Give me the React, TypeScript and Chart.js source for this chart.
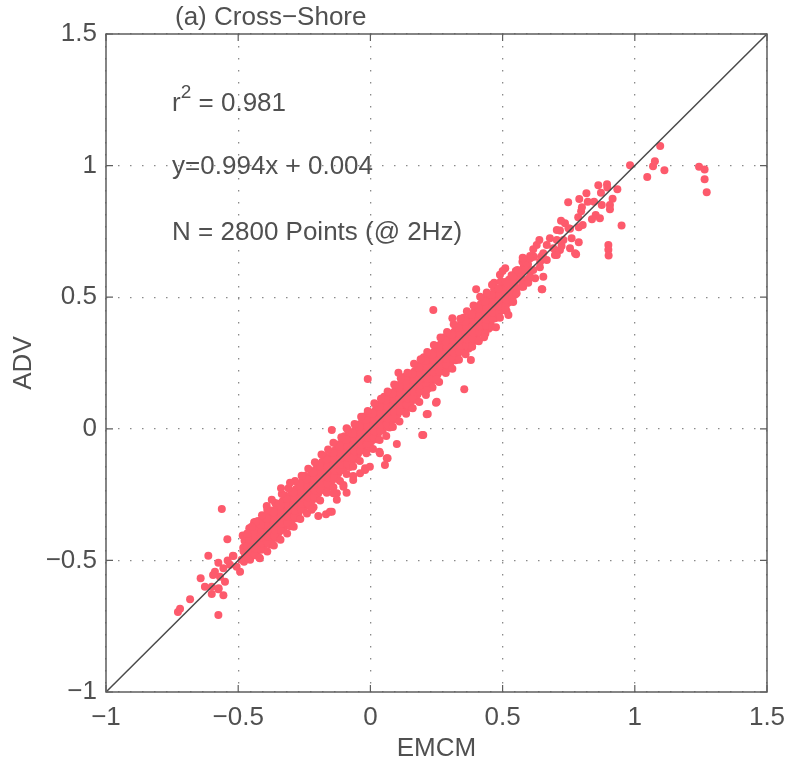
import React, { useEffect, useRef } from "react";
import { Chart, registerables } from "chart.js";

Chart.register(...registerables);

// Axis ticks (both axes share the same range)
const xTicks = [-1, -0.5, 0, 0.5, 1, 1.5];
const yTicks = [-1, -0.5, 0, 0.5, 1, 1.5];

const panelTitle = "(a) Cross\u2212Shore";
const xTitle = "EMCM";
const yTitle = "ADV";
const rSquared = "0.981";
const fitText = "y=0.994x + 0.004";
const countText = "N = 2800 Points (@ 2Hz)";
// data-space anchors of the three statistic lines
const statX = -0.75;
const statY = [1.235, 0.995, 0.745];

// 1:1 reference line
const oneToOne: [number, number][] = [
  [-1, -1],
  [1.5, 1.5],
];

// [EMCM, ADV] samples — sparse lower end of the cloud
const tailLow: [number, number][] = [
  [-0.728, -0.696], [-0.72, -0.684], [-0.682, -0.648], [-0.642, -0.568], [-0.626, -0.6],
  [-0.6, -0.6], [-0.6, -0.628], [-0.575, -0.707], [-0.575, -0.61], [-0.556, -0.632],
  [-0.55, -0.581], [-0.569, -0.562], [-0.588, -0.543], [-0.556, -0.53], [-0.575, -0.509],
  [-0.613, -0.482], [-0.541, -0.42], [-0.562, -0.305], [-0.531, -0.517], [-0.518, -0.483],
  [-0.506, -0.524], [-0.493, -0.543], [-0.487, -0.498], [-0.474, -0.48], [-0.455, -0.498],
  [-0.436, -0.48], [-0.418, -0.492], [-0.481, -0.452], [-0.455, -0.422], [-0.449, -0.384],
  [-0.43, -0.353], [-0.595, -0.555], [-0.574, -0.606], [-0.52, -0.482], [-0.54, -0.5],
];

// dense band, lower part
const bandLow: [number, number][] = [
  [-0.478, -0.505], [-0.472, -0.485], [-0.48, -0.465], [-0.47, -0.445], [-0.476, -0.425], [-0.483, -0.405],
  [-0.452, -0.48], [-0.447, -0.462], [-0.455, -0.44], [-0.446, -0.42], [-0.452, -0.398], [-0.458, -0.378],
  [-0.428, -0.465], [-0.421, -0.445], [-0.43, -0.425], [-0.42, -0.405], [-0.426, -0.385], [-0.432, -0.365], [-0.424, -0.35],
  [-0.403, -0.455], [-0.397, -0.435], [-0.405, -0.415], [-0.395, -0.395], [-0.401, -0.375], [-0.407, -0.355], [-0.398, -0.335],
  [-0.378, -0.44], [-0.372, -0.42], [-0.38, -0.398], [-0.37, -0.375], [-0.376, -0.352], [-0.382, -0.33], [-0.373, -0.31],
  [-0.353, -0.415], [-0.347, -0.395], [-0.355, -0.372], [-0.345, -0.35], [-0.351, -0.328], [-0.357, -0.305], [-0.348, -0.285],
  [-0.328, -0.38], [-0.322, -0.36], [-0.33, -0.337], [-0.32, -0.315], [-0.326, -0.295], [-0.332, -0.275], [-0.323, -0.253],
  [-0.303, -0.37], [-0.297, -0.348], [-0.305, -0.328], [-0.295, -0.305], [-0.301, -0.283], [-0.307, -0.262], [-0.298, -0.24],
  [-0.278, -0.34], [-0.272, -0.32], [-0.28, -0.297], [-0.27, -0.275], [-0.276, -0.253], [-0.282, -0.23], [-0.273, -0.21],
  [-0.253, -0.305], [-0.247, -0.285], [-0.255, -0.262], [-0.245, -0.24], [-0.251, -0.22], [-0.257, -0.2], [-0.248, -0.178],
  [-0.228, -0.295], [-0.222, -0.273], [-0.23, -0.253], [-0.22, -0.23], [-0.226, -0.208], [-0.232, -0.187], [-0.223, -0.165],
  [-0.203, -0.265], [-0.197, -0.245], [-0.205, -0.222], [-0.195, -0.2], [-0.201, -0.178], [-0.207, -0.155], [-0.198, -0.135],
];

// dense band, middle part
const bandMid: [number, number][] = [
  [-0.178, -0.23], [-0.172, -0.21], [-0.18, -0.187], [-0.17, -0.165], [-0.176, -0.145], [-0.182, -0.125], [-0.173, -0.103],
  [-0.153, -0.22], [-0.147, -0.198], [-0.155, -0.178], [-0.145, -0.155], [-0.151, -0.133], [-0.157, -0.112], [-0.148, -0.09],
  [-0.128, -0.19], [-0.122, -0.17], [-0.13, -0.147], [-0.12, -0.125], [-0.126, -0.103], [-0.132, -0.08], [-0.123, -0.06],
  [-0.103, -0.155], [-0.097, -0.135], [-0.105, -0.112], [-0.095, -0.09], [-0.101, -0.07], [-0.107, -0.05], [-0.098, -0.028],
  [-0.078, -0.145], [-0.072, -0.123], [-0.08, -0.103], [-0.07, -0.08], [-0.076, -0.058], [-0.082, -0.037], [-0.073, -0.015],
  [-0.053, -0.115], [-0.047, -0.095], [-0.055, -0.072], [-0.045, -0.05], [-0.051, -0.028], [-0.057, -0.005], [-0.048, 0.015],
  [-0.028, -0.08], [-0.022, -0.06], [-0.03, -0.037], [-0.02, -0.015], [-0.026, 0.005], [-0.032, 0.025], [-0.023, 0.047],
  [-0.003, -0.07], [0.003, -0.048], [-0.005, -0.028], [0.005, -0.005], [-0.001, 0.017], [-0.007, 0.038], [0.002, 0.06],
  [0.022, -0.04], [0.028, -0.02], [0.02, 0.003], [0.03, 0.025], [0.024, 0.047], [0.018, 0.07], [0.027, 0.09],
  [0.047, -0.005], [0.053, 0.015], [0.045, 0.038], [0.055, 0.06], [0.049, 0.08], [0.043, 0.1], [0.052, 0.122],
  [0.072, 0.005], [0.078, 0.027], [0.07, 0.047], [0.08, 0.07], [0.074, 0.092], [0.068, 0.113], [0.077, 0.135],
  [0.097, 0.035], [0.103, 0.055], [0.095, 0.078], [0.105, 0.1], [0.099, 0.122], [0.093, 0.145], [0.102, 0.165],
  [0.122, 0.07], [0.128, 0.09], [0.12, 0.113], [0.13, 0.135], [0.124, 0.155], [0.118, 0.175], [0.127, 0.197],
  [0.147, 0.08], [0.153, 0.102], [0.145, 0.122], [0.155, 0.145], [0.149, 0.167], [0.143, 0.188], [0.152, 0.21],
  [0.172, 0.11], [0.178, 0.13], [0.17, 0.153], [0.18, 0.175], [0.174, 0.197], [0.168, 0.22], [0.177, 0.24],
  [0.197, 0.145], [0.203, 0.165], [0.195, 0.188], [0.205, 0.21], [0.199, 0.23], [0.193, 0.25], [0.202, 0.272],
];

// dense band, upper part
const bandHigh: [number, number][] = [
  [0.222, 0.155], [0.228, 0.177], [0.22, 0.197], [0.23, 0.22], [0.224, 0.242], [0.218, 0.263], [0.227, 0.285],
  [0.247, 0.185], [0.253, 0.205], [0.245, 0.228], [0.255, 0.25], [0.249, 0.272], [0.243, 0.295], [0.252, 0.315],
  [0.272, 0.22], [0.278, 0.24], [0.27, 0.263], [0.28, 0.285], [0.274, 0.305], [0.268, 0.325], [0.277, 0.347],
  [0.297, 0.23], [0.303, 0.252], [0.295, 0.272], [0.305, 0.295], [0.299, 0.317], [0.293, 0.338], [0.302, 0.36],
  [0.322, 0.26], [0.328, 0.28], [0.32, 0.303], [0.33, 0.325], [0.324, 0.347], [0.318, 0.37], [0.327, 0.39],
  [0.347, 0.295], [0.353, 0.315], [0.345, 0.338], [0.355, 0.36], [0.349, 0.38], [0.343, 0.4], [0.352, 0.422],
  [0.372, 0.305], [0.378, 0.327], [0.37, 0.347], [0.38, 0.37], [0.374, 0.392], [0.368, 0.413], [0.377, 0.435],
  [0.397, 0.335], [0.403, 0.355], [0.395, 0.378], [0.405, 0.4], [0.399, 0.422], [0.393, 0.445], [0.402, 0.465],
  [0.422, 0.37], [0.428, 0.39], [0.42, 0.413], [0.43, 0.435], [0.424, 0.455], [0.418, 0.475], [0.427, 0.497],
  [0.447, 0.38], [0.453, 0.402], [0.445, 0.422], [0.455, 0.445], [0.449, 0.467], [0.443, 0.488], [0.452, 0.51],
  [0.472, 0.42], [0.478, 0.44], [0.47, 0.463], [0.48, 0.485], [0.474, 0.507], [0.468, 0.53], [0.468, 0.555],
  [0.497, 0.45], [0.503, 0.472], [0.495, 0.495], [0.505, 0.517], [0.499, 0.538], [0.493, 0.56], [0.49, 0.585],
  [0.522, 0.48], [0.528, 0.5], [0.52, 0.522], [0.53, 0.545], [0.524, 0.566], [0.51, 0.61], [0.5, 0.6],
  [0.548, 0.51], [0.553, 0.535], [0.545, 0.558], [0.556, 0.58], [0.55, 0.6],
  [0.572, 0.54], [0.578, 0.565], [0.57, 0.59], [0.58, 0.615], [0.575, 0.635],
  [0.598, 0.57], [0.603, 0.6], [0.596, 0.625], [0.605, 0.65],
];

// core of the band, between the columns above
const bandCore: [number, number][] = [
  [-0.463, -0.49], [-0.46, -0.468], [-0.465, -0.445], [-0.459, -0.42], [-0.466, -0.398],
  [-0.438, -0.478], [-0.435, -0.455], [-0.44, -0.43], [-0.436, -0.41], [-0.441, -0.385],
  [-0.413, -0.46], [-0.41, -0.435], [-0.415, -0.412], [-0.411, -0.39], [-0.416, -0.365],
  [-0.388, -0.435], [-0.385, -0.41], [-0.39, -0.388], [-0.386, -0.365], [-0.391, -0.342],
  [-0.363, -0.408], [-0.36, -0.385], [-0.365, -0.362], [-0.361, -0.34], [-0.366, -0.317],
  [-0.338, -0.385], [-0.335, -0.36], [-0.34, -0.338], [-0.336, -0.315], [-0.341, -0.292],
  [-0.313, -0.358], [-0.31, -0.335], [-0.315, -0.312], [-0.311, -0.29], [-0.316, -0.267],
  [-0.288, -0.333], [-0.285, -0.31], [-0.29, -0.288], [-0.286, -0.265], [-0.291, -0.242],
  [-0.263, -0.308], [-0.26, -0.285], [-0.265, -0.262], [-0.261, -0.24], [-0.266, -0.217],
  [-0.238, -0.283], [-0.235, -0.26], [-0.24, -0.238], [-0.236, -0.215], [-0.241, -0.192],
  [-0.213, -0.258], [-0.21, -0.235], [-0.215, -0.212], [-0.211, -0.19], [-0.216, -0.167],
  [-0.188, -0.233], [-0.185, -0.21], [-0.19, -0.188], [-0.186, -0.165], [-0.191, -0.142],
  [-0.163, -0.208], [-0.16, -0.185], [-0.165, -0.162], [-0.161, -0.14], [-0.166, -0.117],
  [-0.138, -0.183], [-0.135, -0.16], [-0.14, -0.138], [-0.136, -0.115], [-0.141, -0.092],
  [-0.113, -0.158], [-0.11, -0.135], [-0.115, -0.112], [-0.111, -0.09], [-0.116, -0.067],
  [-0.088, -0.133], [-0.085, -0.11], [-0.09, -0.088], [-0.086, -0.065], [-0.091, -0.042],
  [-0.063, -0.108], [-0.06, -0.085], [-0.065, -0.062], [-0.061, -0.04], [-0.066, -0.017],
  [-0.038, -0.083], [-0.035, -0.06], [-0.04, -0.038], [-0.036, -0.015], [-0.041, 0.008],
  [-0.013, -0.058], [-0.01, -0.035], [-0.015, -0.012], [-0.011, 0.01], [-0.016, 0.033],
  [0.012, -0.033], [0.015, -0.01], [0.01, 0.013], [0.014, 0.035], [0.009, 0.058],
  [0.037, -0.008], [0.04, 0.015], [0.035, 0.038], [0.039, 0.06], [0.034, 0.083],
  [0.062, 0.017], [0.065, 0.04], [0.06, 0.063], [0.064, 0.085], [0.059, 0.108],
  [0.087, 0.042], [0.09, 0.065], [0.085, 0.088], [0.089, 0.11], [0.084, 0.133],
  [0.112, 0.067], [0.115, 0.09], [0.11, 0.113], [0.114, 0.135], [0.109, 0.158],
  [0.137, 0.092], [0.14, 0.115], [0.135, 0.138], [0.139, 0.16], [0.134, 0.183],
  [0.162, 0.117], [0.165, 0.14], [0.16, 0.163], [0.164, 0.185], [0.159, 0.208],
  [0.187, 0.142], [0.19, 0.165], [0.185, 0.188], [0.189, 0.21], [0.184, 0.233],
  [0.212, 0.167], [0.215, 0.19], [0.21, 0.213], [0.214, 0.235], [0.209, 0.258],
  [0.237, 0.192], [0.24, 0.215], [0.235, 0.238], [0.239, 0.26], [0.234, 0.283],
  [0.262, 0.217], [0.265, 0.24], [0.26, 0.263], [0.264, 0.285], [0.259, 0.308],
  [0.287, 0.242], [0.29, 0.265], [0.285, 0.288], [0.289, 0.31], [0.284, 0.333],
  [0.312, 0.267], [0.315, 0.29], [0.31, 0.313], [0.314, 0.335], [0.309, 0.358],
  [0.337, 0.292], [0.34, 0.315], [0.335, 0.338], [0.339, 0.36], [0.334, 0.383],
  [0.362, 0.317], [0.365, 0.34], [0.36, 0.363], [0.364, 0.385], [0.359, 0.408],
  [0.387, 0.342], [0.39, 0.365], [0.385, 0.388], [0.389, 0.41], [0.384, 0.433],
  [0.412, 0.367], [0.415, 0.39], [0.41, 0.413], [0.414, 0.435], [0.409, 0.458],
  [0.437, 0.392], [0.44, 0.415], [0.435, 0.438], [0.439, 0.46], [0.434, 0.483],
  [0.462, 0.417], [0.465, 0.44], [0.46, 0.463], [0.464, 0.485], [0.459, 0.508],
  [0.487, 0.442], [0.49, 0.465], [0.485, 0.488], [0.489, 0.51], [0.484, 0.533],
  [0.512, 0.467], [0.515, 0.49], [0.51, 0.513], [0.514, 0.535], [0.509, 0.558],
  [0.537, 0.495], [0.54, 0.515], [0.535, 0.538], [0.539, 0.56], [0.534, 0.583],
];

// fringe of the band, above and below its core
const bandEdge: [number, number][] = [
  [-0.44, -0.355], [-0.41, -0.328], [-0.39, -0.308], [-0.36, -0.282], [-0.335, -0.248], [-0.31, -0.226],
  [-0.285, -0.198], [-0.26, -0.178], [-0.235, -0.152], [-0.21, -0.127], [-0.185, -0.098], [-0.16, -0.079],
  [-0.14, -0.053], [-0.11, -0.032], [-0.085, -0.004], [-0.06, 0.018], [-0.035, 0.046], [-0.01, 0.068],
  [0.015, 0.097], [0.04, 0.114], [0.065, 0.142], [0.09, 0.168], [0.115, 0.192], [0.14, 0.213],
  [0.165, 0.247], [0.19, 0.264], [0.215, 0.292], [0.24, 0.318], [0.265, 0.347], [0.29, 0.368],
  [0.315, 0.397], [0.34, 0.418], [0.365, 0.447], [0.39, 0.468], [0.415, 0.502], [0.44, 0.518], [0.46, 0.547],
  [-0.42, -0.49], [-0.39, -0.466], [-0.365, -0.443], [-0.34, -0.422], [-0.315, -0.398], [-0.29, -0.372],
  [-0.265, -0.343], [-0.24, -0.322], [-0.215, -0.298], [-0.19, -0.272], [-0.165, -0.243], [-0.14, -0.222],
  [-0.115, -0.198], [-0.09, -0.172], [-0.065, -0.143], [-0.04, -0.122], [-0.015, -0.093], [0.01, -0.077],
  [0.035, -0.043], [0.06, -0.027], [0.085, 0.007], [0.11, 0.028], [0.135, 0.057], [0.16, 0.078],
  [0.185, 0.102], [0.21, 0.128], [0.235, 0.157], [0.26, 0.178], [0.285, 0.212], [0.31, 0.228],
  [0.335, 0.262], [0.36, 0.283], [0.385, 0.312], [0.41, 0.333], [0.435, 0.362], [0.46, 0.388],
  [0.49, 0.422], [0.515, 0.448], [0.54, 0.482],
];

// thinning upper end of the cloud
const tailHigh: [number, number][] = [
  [0.509, 0.451], [0.522, 0.432], [0.516, 0.553], [0.528, 0.527], [0.553, 0.515], [0.54, 0.578],
  [0.556, 0.603], [0.578, 0.54], [0.597, 0.555], [0.623, 0.572], [0.591, 0.629], [0.576, 0.65],
  [0.604, 0.657], [0.619, 0.654], [0.648, 0.657], [0.616, 0.682], [0.629, 0.698], [0.639, 0.717],
  [0.641, 0.614], [0.616, 0.603], [0.654, 0.578], [0.648, 0.53], [0.667, 0.698], [0.679, 0.724],
  [0.698, 0.66], [0.705, 0.717], [0.73, 0.717], [0.723, 0.695], [0.755, 0.686], [0.788, 0.709],
  [0.778, 0.663], [0.717, 0.753], [0.736, 0.781], [0.721, 0.79], [0.755, 0.76], [0.788, 0.766],
  [0.803, 0.774], [0.786, 0.804], [0.797, 0.827], [0.8, 0.842], [0.822, 0.863], [0.846, 0.863],
  [0.79, 0.873], [0.817, 0.895], [0.872, 0.897], [0.862, 0.925], [0.895, 0.929], [0.896, 0.917],
  [0.934, 0.91], [0.916, 0.874], [0.875, 0.85], [0.906, 0.85], [0.906, 0.834], [0.852, 0.812],
  [0.868, 0.8], [0.838, 0.796], [0.748, 0.861], [0.692, 0.686], [0.717, 0.679], [0.774, 0.667],
  [0.705, 0.66], [0.654, 0.667], [0.642, 0.635], [0.667, 0.641], [0.604, 0.648], [0.578, 0.648],
  [0.585, 0.603], [0.566, 0.565], [0.604, 0.578], [0.761, 0.724], [0.749, 0.762], [0.705, 0.755],
];

// scattered points away from the band
const strays: [number, number][] = [
  [-0.304, -0.205], [-0.338, -0.226], [-0.373, -0.27], [-0.392, -0.293], [-0.433, -0.353], [-0.449, -0.372],
  [-0.197, -0.331], [-0.168, -0.325], [-0.146, -0.315], [-0.222, -0.308], [-0.153, -0.315], [-0.127, -0.27],
  [-0.127, -0.245], [-0.09, -0.243], [-0.102, -0.214], [-0.14, -0.245], [-0.102, -0.22], [-0.065, -0.195],
  [-0.065, -0.179], [-0.039, -0.169], [-0.02, -0.157], [-0.02, -0.15], [-0.002, -0.144], [0.055, -0.138],
  [0.062, -0.112], [0.065, -0.112], [0.036, -0.093], [0.034, -0.087], [0.1, -0.058], [0.196, -0.024],
  [0.2, -0.024], [0.217, 0.056], [0.213, 0.055], [0.248, 0.099], [0.251, 0.103], [0.213, 0.147],
  [0.25, 0.188], [0.355, 0.15], [0.38, 0.261], [0.43, 0.348], [0.475, 0.386], [-0.146, -0.005],
  [-0.09, 0.002], [-0.01, 0.189], [0.106, 0.213], [0.238, 0.451], [0.31, 0.42], [0.4, 0.53],
  [0.65, 0.53], [0.95, 0.772], [0.9, 0.698], [0.9, 0.68], [0.901, 0.658],
];

// isolated high-velocity samples
const farPoints: [number, number][] = [
  [0.982, 1.001], [1.047, 0.957], [1.069, 0.998], [1.076, 1.017], [1.096, 1.074], [1.112, 0.982],
  [1.243, 0.996], [1.264, 0.985], [1.264, 0.948], [1.272, 0.899],
];

const samples = [
  ...tailLow, ...bandLow, ...bandMid, ...bandHigh, ...bandCore, ...bandEdge, ...tailHigh, ...strays, ...farPoints,
];

const FONT = '"Liberation Sans", Arial, Helvetica, sans-serif';
const TEXT_COLOR = "#505050";
const AXIS_COLOR = "#5e5e5e";
const DOT_COLOR = "rgb(253,90,108)";

const fmt = (v: number) => (v < 0 ? "\u2212" + String(Math.abs(v)) : String(v));

const framePlugin = {
  id: "frame",
  afterDraw(chart: any) {
    const { ctx, chartArea: a, scales } = chart;
    const xs = scales.x;
    const ys = scales.y;
    ctx.save();

    // axes box
    ctx.strokeStyle = AXIS_COLOR;
    ctx.lineWidth = 1.5;
    ctx.strokeRect(a.left, a.top, a.right - a.left, a.bottom - a.top);

    // inward tick marks on all four sides
    const tl = 7;
    ctx.lineWidth = 1.2;
    ctx.beginPath();
    xTicks.forEach((v) => {
      const px = xs.getPixelForValue(v);
      ctx.moveTo(px, a.bottom);
      ctx.lineTo(px, a.bottom - tl);
      ctx.moveTo(px, a.top);
      ctx.lineTo(px, a.top + tl);
    });
    yTicks.forEach((v) => {
      const py = ys.getPixelForValue(v);
      ctx.moveTo(a.left, py);
      ctx.lineTo(a.left + tl, py);
      ctx.moveTo(a.right, py);
      ctx.lineTo(a.right - tl, py);
    });
    ctx.stroke();

    ctx.fillStyle = TEXT_COLOR;
    ctx.font = `26px ${FONT}`;

    // tick labels
    ctx.textBaseline = "middle";
    ctx.textAlign = "center";
    xTicks.forEach((v) => ctx.fillText(fmt(v), xs.getPixelForValue(v), a.bottom + 26));
    ctx.textAlign = "right";
    yTicks.forEach((v) => ctx.fillText(fmt(v), a.left - 9, ys.getPixelForValue(v)));

    // axis titles
    ctx.textAlign = "center";
    ctx.fillText(xTitle, (a.left + a.right) / 2, a.bottom + 57);
    ctx.save();
    ctx.translate(24, (a.top + a.bottom) / 2);
    ctx.rotate(-Math.PI / 2);
    ctx.fillText(yTitle, 0, 0);
    ctx.restore();

    // panel title
    ctx.textAlign = "left";
    ctx.fillText(panelTitle, 175, 18);

    // statistics
    const sx = xs.getPixelForValue(statX);
    const [y1, y2, y3] = statY.map((v) => ys.getPixelForValue(v));
    ctx.fillText("r", sx, y1);
    let cx = sx + ctx.measureText("r").width;
    ctx.font = `19px ${FONT}`;
    ctx.fillText("2", cx, y1 - 11);
    cx += ctx.measureText("2").width;
    ctx.font = `26px ${FONT}`;
    ctx.fillText(" = " + rSquared, cx, y1);
    ctx.fillText(fitText, sx, y2);
    ctx.fillText(countText, sx, y3);

    ctx.restore();
  },
};

export default function App() {
  const canvasRef = useRef<HTMLCanvasElement>(null);

  useEffect(() => {
    document.body.style.margin = "0";
    const canvas = canvasRef.current;
    if (!canvas) return;

    const gridCommon = {
      color: "#8a8a8a",
      lineWidth: 1.3,
      drawTicks: false,
    };

    const chart = new Chart(canvas, {
      type: "scatter",
      data: {
        datasets: [
          {
            type: "line",
            data: oneToOne.map(([x, y]) => ({ x, y })),
            borderColor: "#4a4a4a",
            borderWidth: 1.5,
            pointRadius: 0,
            fill: false,
            tension: 0,
          } as any,
          {
            type: "scatter",
            data: samples.map(([x, y]) => ({ x, y })),
            backgroundColor: DOT_COLOR,
            borderColor: DOT_COLOR,
            borderWidth: 0,
            pointRadius: 4,
            pointHoverRadius: 4,
          } as any,
        ],
      },
      options: {
        responsive: false,
        animation: false,
        devicePixelRatio: 1,
        events: [],
        layout: { padding: { left: 0, top: 34, right: 26, bottom: 0 } },
        plugins: {
          legend: { display: false },
          tooltip: { enabled: false },
        },
        scales: {
          x: {
            type: "linear",
            min: -1,
            max: 1.5,
            afterBuildTicks: (s: any) => {
              s.ticks = xTicks.map((value) => ({ value }));
            },
            afterFit: (s: any) => {
              s.height = 73;
            },
            ticks: { display: false },
            grid: gridCommon,
            border: { display: false, dash: [1.5, 10.5] },
          },
          y: {
            type: "linear",
            min: -1,
            max: 1.5,
            afterBuildTicks: (s: any) => {
              s.ticks = yTicks.map((value) => ({ value }));
            },
            afterFit: (s: any) => {
              s.width = 106;
            },
            ticks: { display: false },
            grid: gridCommon,
            border: { display: false, dash: [1.5, 10.5] },
          },
        },
      },
      plugins: [framePlugin],
    });

    return () => chart.destroy();
  }, []);

  return (
    <div style={{ position: "absolute", left: 0, top: 0, width: 793, height: 765, background: "#ffffff" }}>
      <canvas ref={canvasRef} width={793} height={765} style={{ display: "block" }} />
    </div>
  );
}
